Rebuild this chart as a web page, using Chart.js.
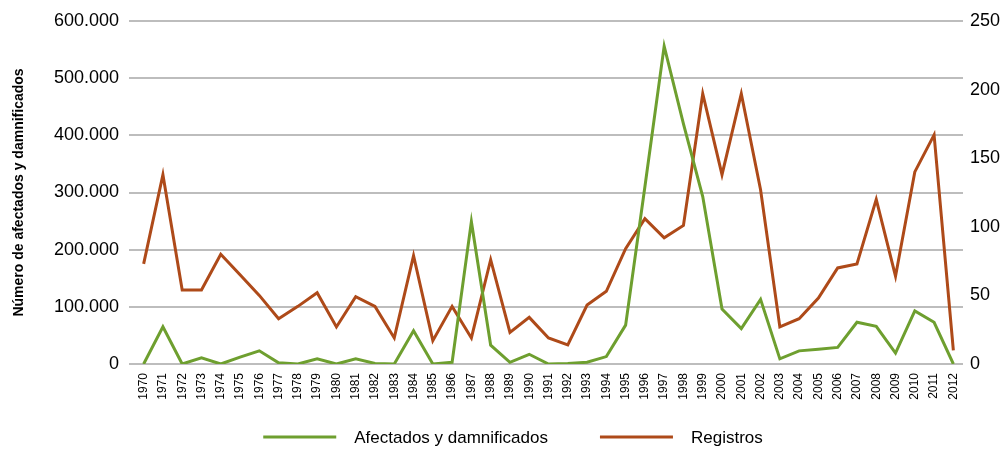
<!DOCTYPE html>
<html>
<head>
<meta charset="utf-8">
<script src="https://cdn.jsdelivr.net/npm/chart.js@4/dist/chart.umd.min.js"></script>
<style>
  html, body { margin: 0; padding: 0; background: #fff; }
  #wrap { width: 1004px; height: 451px; }
</style>
</head>
<body>
<div id="wrap"><canvas id="myChart" width="1004" height="451"></canvas></div>
<script>
const years = [
  "1970", "1971", "1972", "1973", "1974", "1975", "1976", "1977", "1978", "1979",
  "1980", "1981", "1982", "1983", "1984", "1985", "1986", "1987", "1988", "1989",
  "1990", "1991", "1992", "1993", "1994", "1995", "1996", "1997", "1998", "1999",
  "2000", "2001", "2002", "2003", "2004", "2005", "2006", "2007", "2008", "2009",
  "2010", "2011", "2012",
];

// personas afectadas y damnificadas por año
const afectados = [
  0, 65000, 0, 11000, 0, 12000, 23000, 2000, 0, 9000,
  0, 9000, 1000, 0, 58000, 0, 3000, 249000, 33000, 3000,
  17000, 0, 1000, 3000, 13000, 68000, 310000, 556000, 420000, 293000,
  96000, 62000, 113000, 9000, 23000, 26000, 29000, 73000, 66000, 19000,
  93000, 73000, 0,
];

// número de registros por año (eje derecho)
const registros = [
  73, 138, 54, 54, 80, 65, 50, 33, 42, 52,
  27, 49, 42, 19, 79, 17, 42, 19, 76, 23,
  34, 19, 14, 43, 53, 84, 106, 92, 101, 197,
  138, 197, 127, 27, 33, 48, 70, 73, 120, 64,
  140, 167, 10,
];

const seriesNames = ["Afectados y damnificados", "Registros"];
const seriesColors = ["#6E9F2F", "#AE4A19"];

const leftTicks = [0, 100000, 200000, 300000, 400000, 500000, 600000];
const rightTicks = [0, 50, 100, 150, 200, 250];

const FONT = "'Liberation Sans Narrow', 'Liberation Sans', Arial, sans-serif";
const GRID = "#BDBDBD";

const fmtMiles = (v) => String(v).replace(/\B(?=(\d{3})+(?!\d))/g, ".");

// leyenda dibujada a mano para respetar el espaciado entre elementos
const bottomLegend = {
  id: "bottomLegend",
  afterDraw(chart) {
    const ctx = chart.ctx;
    const y = 437;
    const lineW = 73;
    const gapText = 18;
    const gapItems = 52;
    ctx.save();
    ctx.font = "17px " + FONT;
    ctx.textBaseline = "middle";
    const widths = seriesNames.map((n) => lineW + gapText + ctx.measureText(n).width);
    const total = widths.reduce((a, b) => a + b, 0) + gapItems * (widths.length - 1);
    let x = (chart.width - total) / 2 + 11;
    seriesNames.forEach((name, i) => {
      ctx.strokeStyle = seriesColors[i];
      ctx.lineWidth = 3;
      ctx.beginPath();
      ctx.moveTo(x, y);
      ctx.lineTo(x + lineW, y);
      ctx.stroke();
      ctx.fillStyle = "#000";
      ctx.fillText(name, x + lineW + gapText, y + 1);
      x += widths[i] + gapItems;
    });
    ctx.restore();
  },
};

const config = {
  type: "line",
  data: {
    labels: years,
    datasets: [
      {
        label: seriesNames[0],
        data: afectados,
        yAxisID: "y",
        borderColor: seriesColors[0],
        backgroundColor: seriesColors[0],
        borderWidth: 3,
        pointRadius: 0,
        tension: 0,
      },
      {
        label: seriesNames[1],
        data: registros,
        yAxisID: "y1",
        borderColor: seriesColors[1],
        backgroundColor: seriesColors[1],
        borderWidth: 3,
        pointRadius: 0,
        tension: 0,
      },
    ],
  },
  options: {
    responsive: false,
    animation: false,
    layout: { padding: { top: 21, left: 0, right: 0, bottom: 0 } },
    plugins: {
      legend: { display: false },
      tooltip: { enabled: false },
    },
    scales: {
      x: {
        offset: true,
        grid: { display: false, drawTicks: false },
        border: { display: false },
        ticks: {
          autoSkip: false,
          maxRotation: 90,
          minRotation: 90,
          padding: 9,
          color: "#000",
          font: { family: FONT, size: 12 },
        },
        afterFit(scale) {
          scale.height = 87;
        },
      },
      y: {
        position: "left",
        min: 0,
        max: 600000,
        afterBuildTicks(scale) {
          scale.ticks = leftTicks.map((v) => ({ value: v }));
        },
        grid: { color: GRID, lineWidth: 2, tickLength: 5, drawTicks: true },
        border: { display: false },
        ticks: {
          padding: 10,
          color: "#000",
          font: { family: FONT, size: 18 },
          callback: (v) => fmtMiles(v),
        },
        title: {
          display: true,
          text: "Número de afectados y damnificados",
          color: "#000",
          font: { family: FONT, size: 14, weight: "bold" },
          padding: { top: 11, bottom: 0 },
        },
        afterFit(scale) {
          scale.width = 134;
        },
      },
      y1: {
        position: "right",
        min: 0,
        max: 250,
        afterBuildTicks(scale) {
          scale.ticks = rightTicks.map((v) => ({ value: v }));
        },
        grid: { display: false, drawTicks: false },
        border: { display: false },
        ticks: {
          padding: 7,
          color: "#000",
          font: { family: FONT, size: 18 },
        },
        afterFit(scale) {
          scale.width = 41;
        },
      },
    },
  },
  plugins: [bottomLegend],
};

new Chart(document.getElementById("myChart"), config);
</script>
</body>
</html>
